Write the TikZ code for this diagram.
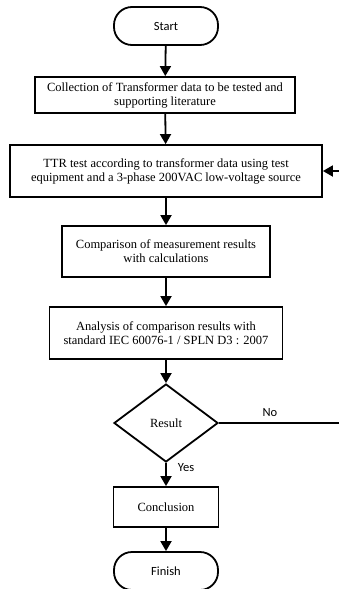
\documentclass[tikz,border=0pt]{standalone}
\usepackage{fontspec}
\setmainfont{Liberation Serif}
\newfontfamily\calfont{Carlito}
\usetikzlibrary{arrows.meta,shapes.geometric}
\begin{document}
\begin{tikzpicture}[x=1pt,y=-1pt,line width=1.8pt,
  proc/.style={draw,align=center,font=\fontsize{12.5}{14}\selectfont,inner sep=0pt},
  term/.style={draw,rounded corners=18pt,minimum width=104pt,minimum height=38pt,font=\calfont\fontsize{12.5}{14}\selectfont,inner sep=0pt},
  lbl/.style={font=\calfont\fontsize{12.5}{14}\selectfont,inner sep=0pt},
  arr/.style={-{Triangle[length=10pt,width=11pt]}}]
\useasboundingbox (0,0) rectangle (339,589);
\clip (0,0) rectangle (339,589);
\node[term] (start) at (166,26) {Start};
\node[proc,minimum width=260pt,minimum height=36pt] (b1) at (165,95) {Collection of Transformer data to be tested and\\supporting literature};
\node[proc,minimum width=312pt,minimum height=52pt] (b2) at (166,171) {TTR test according to transformer data using test\\equipment and a 3-phase 200VAC low-voltage source};
\node[proc,minimum width=208pt,minimum height=51pt] (b3) at (166,251.5) {Comparison of measurement results\\with calculations};
\node[proc,minimum width=233pt,minimum height=52pt] (b4) at (166,333) {Analysis of comparison results with\\standard IEC 60076-1 / SPLN D3 : 2007};
\node[draw,diamond,minimum width=104pt,minimum height=78pt,inner sep=0pt,font=\fontsize{12.5}{14}\selectfont] (d) at (166,423) {Result};
\node[proc,minimum width=105pt,minimum height=40pt] (c) at (166,507) {Conclusion};
\node[term] (fin) at (166,571) {Finish};
\coordinate (e1) at (339,423);
\coordinate (e2) at (339,171);
\draw[arr] (start) -- (b1);
\draw[arr] (b1) -- (b2);
\draw[arr] (b2) -- (b3);
\draw[arr] (b3) -- (b4);
\draw[arr] (b4) -- (d);
\draw[arr] (d) -- (c);
\draw[arr] (c) -- (fin);
\draw (d.east) -- (e1);
\draw[arr] (e2) -- (b2.east);
\node[lbl] at (270,413) {No};
\node[lbl] at (186,468) {Yes};
\end{tikzpicture}
\end{document}
